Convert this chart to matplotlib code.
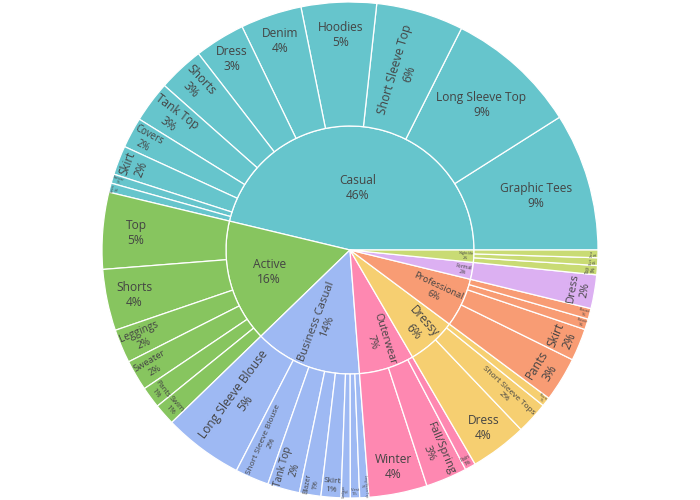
import numpy as np
import matplotlib
matplotlib.use('Agg')
import matplotlib.pyplot as plt
from matplotlib.patches import Wedge
from matplotlib.textpath import TextPath
from matplotlib.font_manager import FontProperties

# categories (inner ring) and their colours
categories = ['Casual', 'Active', 'Business Casual', 'Outerwear', 'Dressy',
              'Professional', 'Formal', 'Nightlife']
colors = ['#66C5CC', '#87C55F', '#9EB9F3', '#FE88B1', '#F6CF71',
          '#F89C74', '#DCB0F2', '#C9DB74']

# items (outer ring) per category, counts
casual_items = ['Graphic Tees', 'Long Sleeve Top', 'Short Sleeve Top', 'Hoodies', 'Denim',
                'Dress', 'Shorts', 'Tank Top', 'Covers', 'Skirt', 'Sweater', 'Swim']
casual_counts = [90, 86, 57, 49, 40, 33, 30, 27, 20, 19, 6, 6]

active_items = ['Top', 'Shorts', 'Leggings', 'Sweater', 'Pants', 'Swim']
active_counts = [50, 40, 22, 20, 14, 14]

business_items = ['Long Sleeve Blouse', 'Short Sleeve Blouse', 'Tank Top', 'Blazer', 'Skirt',
                  'Cardigan', 'Vest', 'Long Sleeve Top']
business_counts = [52, 22, 21, 14, 13, 6, 6, 6]

outerwear_items = ['Winter', 'Fall/Spring', 'Rain']
outerwear_counts = [38, 27, 7]

dressy_items = ['Dress', 'Short Sleeve Tops', 'Shorts']
dressy_counts = [37, 21, 6]

professional_items = ['Pants', 'Skirt', 'Blazer', 'Blouse']
professional_counts = [29, 21, 7, 7]

formal_items = ['Dress']
formal_counts = [22]

nightlife_items = ['Top', 'Skirt', 'Dress']
nightlife_counts = [6, 5, 5]

children = [
    (casual_items, casual_counts),
    (active_items, active_counts),
    (business_items, business_counts),
    (outerwear_items, outerwear_counts),
    (dressy_items, dressy_counts),
    (professional_items, professional_counts),
    (formal_items, formal_counts),
    (nightlife_items, nightlife_counts),
]

R = 248.0
R_IN = R / 2
FS = 12.0   # px, full text size
PAD = 3.0
TXT_COLOR = '#444444'
fp = FontProperties(family='Open Sans')


def half_size(a, half, r, ring):
    q = a + 1 / (2 * np.tan(half))
    return r * min(1 / (np.sqrt(q * q + 0.5) + q), ring / (np.sqrt(a * a + ring / 2) + a))


def norm_rot(t):
    return (np.degrees(t) + 90) % 180 - 90


# inside-text fitting, same idea as plotly's "auto" orientation
def place_label(ax, lines, a0, a1, r0, r1):
    w = (max(TextPath((0, 0), s, size=1, prop=fp).get_extents().width for s in lines) + 0.15) * FS
    h = FS * (1.45 + 1.3 * (len(lines) - 1))
    half = 0.5 * min(np.radians(a1 - a0), np.pi)
    mid = np.radians((a0 + a1) / 2)
    ring = 1 - r0 / r1
    r_ins = max(0.0, min(1 / (1 + 1 / np.sin(half)), ring / 2))

    horiz = (r_ins * r1 * 2 / np.hypot(w, h), 1 - r_ins, 0.0)
    if horiz[0] >= 1:
        chosen = horiz
    else:
        rr = max(0.0, r1 - 2 * PAD)
        opts = [horiz]
        a = h / w
        s = half_size(a, half, rr, ring)
        opts.append((s * 2 / w, np.cos(s / rr) - a * s / rr, norm_rot(mid + np.pi / 2)))
        a = w / h
        s = half_size(a, half, rr, ring)
        opts.append((s * 2 / h, np.cos(s / rr) - a * s / rr, norm_rot(mid)))
        chosen = opts[0]
        for o in opts[1:]:
            if o[0] > chosen[0]:
                chosen = o
    scale = min(1.0, chosen[0])
    fs = FS * scale
    if fs < 1.5:
        return
    rc = chosen[1] * r1
    ax.text(rc * np.cos(mid), rc * np.sin(mid), '\n'.join(lines), rotation=chosen[2],
            rotation_mode='anchor', ha='center', va='center', multialignment='center',
            linespacing=1.2, fontsize=fs * 0.72, color=TXT_COLOR, family='Open Sans')


fig = plt.figure(figsize=(7, 5), dpi=100)
ax = fig.add_axes([0, 0, 1, 1])
ax.set_xlim(-350, 350)
ax.set_ylim(-250, 250)
ax.set_aspect('equal')
ax.axis('off')

total = sum(sum(c) for _, c in children)

theta = 0.0
for cat, col, (items, counts) in zip(categories, colors, children):
    pv = sum(counts)
    span = pv / total * 360
    ax.add_patch(Wedge((0, 0), R_IN, theta, theta + span, facecolor=col,
                       edgecolor='white', linewidth=0.9))
    place_label(ax, [cat, '%d%%' % round(pv / total * 100)], theta, theta + span, 0, R_IN)
    order = sorted(zip(items, counts), key=lambda t: -t[1])
    t = theta
    for name, cv in order:
        cs = cv / total * 360
        ax.add_patch(Wedge((0, 0), R, t, t + cs, width=R - R_IN, facecolor=col,
                           edgecolor='white', linewidth=0.9))
        place_label(ax, [name, '%d%%' % round(cv / total * 100)], t, t + cs, R_IN, R)
        t += cs
    theta += span

fig.savefig('out.png', dpi=100, facecolor='white')
